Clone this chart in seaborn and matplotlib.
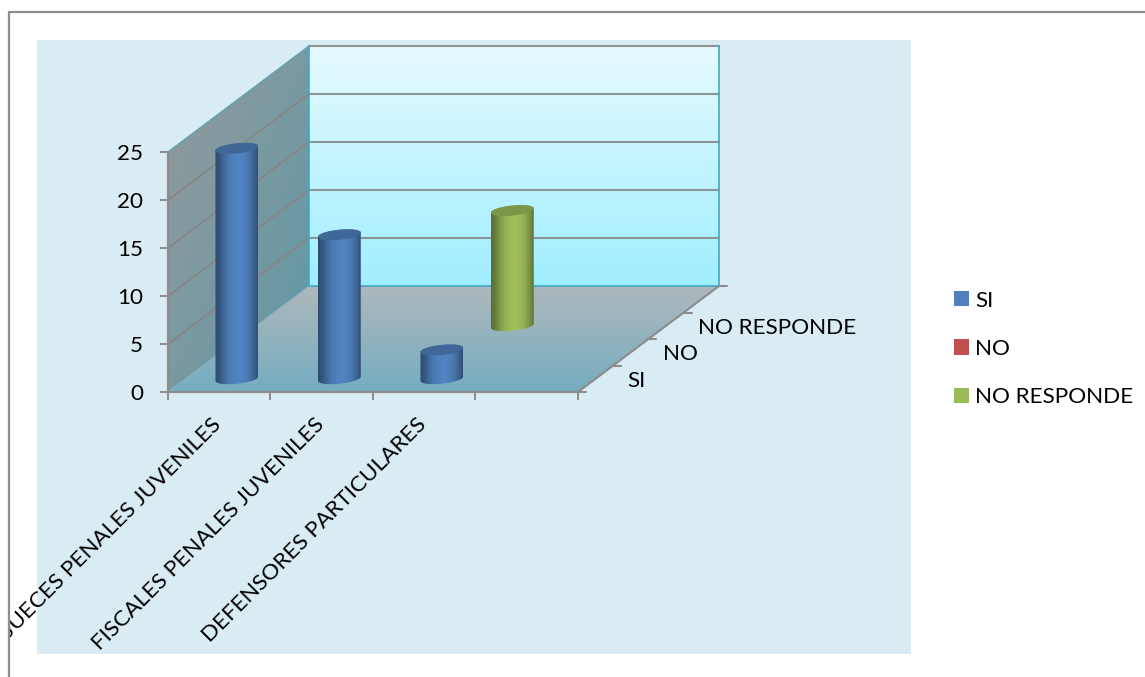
import numpy as np
import pandas as pd
import seaborn as sns
import matplotlib
matplotlib.use('Agg')
import matplotlib.pyplot as plt
from matplotlib.lines import Line2D
from matplotlib.patches import Polygon, Rectangle
from matplotlib.transforms import Bbox, ScaledTranslation
from matplotlib.colors import to_rgb

categories = ['JUECES PENALES JUVENILES', 'FISCALES PENALES JUVENILES', 'DEFENSORES PARTICULARES', '']
series = ['SI', 'NO', 'NO RESPONDE']
si_values = [24, 15, 3, 0]
no_values = [0, 0, 0, 0]
nr_values = [0, 0, 12, 0]
colors = {'SI': '#4F81BD', 'NO': '#C0504D', 'NO RESPONDE': '#9BBB59'}

W, H = 1145, 677
PX_X = 410 / 4      # pixels per category
PX_Y = 240 / 25     # pixels per value unit
DEPTH_X = 141 / PX_X
DEPTH_Y = 106 / PX_Y

sns.set_theme(style='white')
plt.rcParams['font.family'] = ['Lato', 'DejaVu Sans']
plt.rcParams['text.color'] = 'black'
FS = 16.2

df = pd.DataFrame({
    'cat': categories * 3,
    'serie': [s for s in series for _ in categories],
    'val': si_values + no_values + nr_values,
})

fig = plt.figure(figsize=(W / 100, H / 100), dpi=100, facecolor='white')
ax = fig.add_axes([168 / W, 1 - 392 / H, 410 / W, 240 / H])
ax.patch.set_alpha(0)

fig.add_artist(Rectangle((37 / W, 1 - 654 / H), 874 / W, 614 / H, transform=fig.transFigure,
                         fc='#DAECF3', ec='none', zorder=-5))

sns.barplot(data=df, x='cat', y='val', hue='serie', order=categories, hue_order=series,
            palette=colors, dodge=False, width=0.42, saturation=1, linewidth=0, edgecolor='none', ax=ax)

XMIN, XMAX, YMAX = -0.5, 3.5, 25


def proj(x, y, d):
    return x + DEPTH_X * d, y + DEPTH_Y * d


def grad(pts, c0, c1, mode, z):
    # gradient image clipped on a polygon
    pts = np.array(pts)
    u, v = np.meshgrid(np.linspace(0, 1, 120), np.linspace(0, 1, 120))
    t = v if mode == 'v' else (u + v) / 2
    c0, c1 = np.array(to_rgb(c0)), np.array(to_rgb(c1))
    arr = c0 + (c1 - c0) * t[..., None]
    im = ax.imshow(arr, extent=[pts[:, 0].min(), pts[:, 0].max(), pts[:, 1].min(), pts[:, 1].max()],
                   aspect='auto', origin='upper', zorder=z, interpolation='bilinear')
    im.set_clip_box(fig.bbox)
    im.set_clip_path(Polygon(pts, closed=True, transform=ax.transData))


# back wall, side wall, floor
back = [proj(XMIN, 0, 1), proj(XMAX, 0, 1), proj(XMAX, YMAX, 1), proj(XMIN, YMAX, 1)]
side = [(XMIN, 0), proj(XMIN, 0, 1), proj(XMIN, YMAX, 1), (XMIN, YMAX)]
floor = [(XMIN, 0), (XMAX, 0), proj(XMAX, 0, 1), proj(XMIN, 0, 1)]
grad(back, '#E6FAFF', '#A0EEFF', 'v', 0.2)
grad(side, '#959A9C', '#5E98A6', 'd', 0.2)
grad(floor, '#AEB8BC', '#75ADC0', 'v', 0.2)

GRID = '#8C9496'
for val in [5, 10, 15, 20, 25]:
    a, b, c = (XMIN, val), proj(XMIN, val, 1), proj(XMAX, val, 1)
    if val < 25:
        ax.plot([a[0], b[0]], [a[1], b[1]], color='#888684', lw=1.3, zorder=0.5, clip_on=False)
    ax.plot([b[0], c[0]], [b[1], c[1]], color=GRID, lw=1.5, zorder=0.5, clip_on=False)

EDGE = '#3FA9C4'
for p, q in [(back[0], back[1]), (back[0], back[3]), (back[1], back[2])]:
    ax.plot([p[0], q[0]], [p[1], q[1]], color=EDGE, lw=1.2, zorder=0.6, clip_on=False)
ax.plot([XMIN, back[3][0]], [YMAX, back[3][1]], color='#5FA3B3', lw=1, zorder=0.6, clip_on=False)
ax.plot([XMIN, back[0][0]], [0, 0 + back[0][1]], color='#7FB0BE', lw=0.8, zorder=0.6, clip_on=False)

# depth axis on the right of the floor
AXC = '#8C8C8C'
ax.plot([XMAX, back[1][0]], [0, back[1][1]], color=AXC, lw=1.5, zorder=0.7, clip_on=False)
for d in [0, 0.25, 0.5, 0.75, 1]:
    x0, y0 = proj(XMAX, 0, d)
    ax.plot([x0, x0 + 8 / PX_X], [y0, y0], color=AXC, lw=1.5, zorder=0.7, clip_on=False)
for i, s in enumerate(series):
    x0, y0 = proj(XMAX, 0, 0.125 + 0.25 * i)
    ax.text(x0 + 32 / PX_X, y0 - 2 / PX_Y, s, ha='left', va='center', fontsize=FS, color='black', clip_on=False)

# cylinders: shift seaborn's bars back in depth and shade them
A, B, TILT = 21.5, 5.0, np.radians(6)


def ellipse(cx, cy, t0=0, t1=2 * np.pi):
    t = np.linspace(t0, t1, 60)
    px = A * np.cos(t) * np.cos(TILT) - B * np.sin(t) * np.sin(TILT)
    py = A * np.cos(t) * np.sin(TILT) + B * np.sin(t) * np.cos(TILT)
    return np.column_stack([cx + px / PX_X, cy + py / PX_Y])


SHADE = np.array([0.58, 0.68, 0.84, 0.95, 1.0, 1.03, 1.0, 0.93, 0.8, 0.62])
for i, s in enumerate(series):
    depth = 0.125 + 0.25 * i
    base = np.array(to_rgb(colors[s]))
    for bar in ax.containers[i]:
        val = bar.get_height()
        if val == 0:
            bar.set_visible(False)
            continue
        bar.set_x(bar.get_x() + DEPTH_X * depth)
        bar.set_y(DEPTH_Y * depth)
        bar.set_clip_on(False)
        bar.set_zorder(2.9)
        bar.set_visible(False)
        cx = bar.get_x() + bar.get_width() / 2
        y0, y1 = DEPTH_Y * depth, DEPTH_Y * depth + val
        low = ellipse(cx, y0, np.pi, 2 * np.pi)
        top = ellipse(cx, y1)
        body = np.vstack([low, ellipse(cx, y1, 0, np.pi)])
        xs = np.linspace(0, 1, len(SHADE))
        u = np.linspace(0, 1, 100)
        arr = np.stack([np.clip(np.interp(u, xs, SHADE) * base[k], 0, 1) for k in range(3)], axis=-1)[None, ...]
        im = ax.imshow(arr, extent=[cx - A / PX_X, cx + A / PX_X, y0 - 2 * B / PX_Y, y1 + 2 * B / PX_Y],
                       aspect='auto', zorder=3, interpolation='bilinear')
        im.set_clip_box(fig.bbox)
        im.set_clip_path(Polygon(body, closed=True, transform=ax.transData))
        ax.add_patch(Polygon(top, closed=True, fc=base * 0.8, ec='none', zorder=3.2, clip_on=False))

ax.set_xlim(XMIN, XMAX)
ax.set_ylim(0, YMAX)
ax.set_xlabel('')
ax.set_ylabel('')
ax.set_yticks([0, 5, 10, 15, 20, 25])
ax.tick_params(axis='y', length=6, width=1.4, color=AXC, pad=12, labelsize=FS, left=True, labelcolor='black')
ax.set_xticks([-0.5, 0.5, 1.5, 2.5, 3.5], minor=True)
ax.tick_params(axis='x', which='minor', length=6, width=1.4, color=AXC, bottom=True)
ax.tick_params(axis='x', which='major', length=0, pad=16, labelsize=FS, labelcolor='black')
clip = Bbox([[9, 0], [W, H]])
for lab in ax.get_xticklabels():
    lab.set_rotation(45)
    lab.set_ha('right')
    lab.set_va('top')
    lab.set_rotation_mode('anchor')
    lab.set_transform(lab.get_transform() + ScaledTranslation(-8 / 100, 0, fig.dpi_scale_trans))
    lab.set_clip_box(clip)
    lab.set_clip_on(True)
sns.despine(ax=ax, top=True, right=True)
for sp in ['left', 'bottom']:
    ax.spines[sp].set_color(AXC)
    ax.spines[sp].set_linewidth(1.6)

handles, labels = ax.get_legend_handles_labels()
ax.legend(handles, labels, loc='center left', bbox_to_anchor=(954 / W, 1 - 349 / H),
          bbox_transform=fig.transFigure, frameon=False, fontsize=FS, borderpad=0, borderaxespad=0,
          handlelength=0.67, handleheight=0.67, handletextpad=0.27, labelspacing=1.26, title=None,
          labelcolor='black')

# outer frame, only top and left are in the picture
fig.add_artist(Line2D([9 / W, 1], [1 - 12 / H, 1 - 12 / H], color='#8E8E8E', lw=1.6, transform=fig.transFigure))
fig.add_artist(Line2D([9 / W, 9 / W], [0, 1 - 12 / H], color='#8E8E8E', lw=1.6, transform=fig.transFigure))

fig.savefig('out.png', dpi=100)
